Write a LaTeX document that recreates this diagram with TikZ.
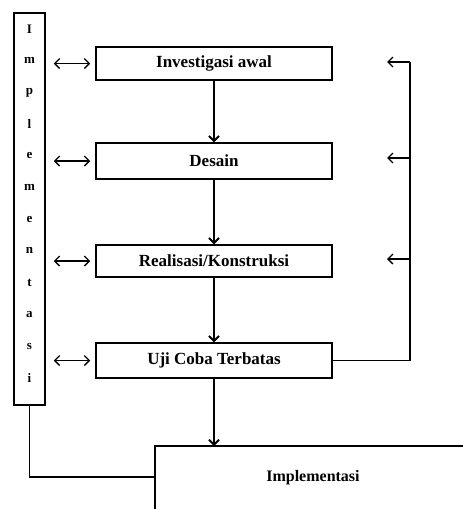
\documentclass[tikz,border=0pt]{standalone}
\usepackage{fontspec}
\setmainfont{Liberation Serif}
\usetikzlibrary{arrows.meta,positioning}

\tikzset{
  >={Straight Barb[length=5pt,width=10pt]},
  stage/.style={draw, line width=1.5pt, minimum width=236pt, minimum height=33pt,
    inner sep=0pt, font=\fontsize{17}{20}\selectfont\bfseries},
  letter/.style={inner sep=0pt, font=\fontsize{13}{15}\selectfont\bfseries},
  flow/.style={->, line width=1.8pt},
  link/.style={<->, line width=1.4pt, shorten <=8pt, shorten >=5pt},
  back/.style={line width=1.3pt}
}

\begin{document}
\begin{tikzpicture}[x=1pt, y=-1pt]
			\useasboundingbox (0,0) rectangle (463,509);
			
			% left column
			\node [draw, line width=1.5pt, minimum width=31pt, minimum height=392pt, inner sep=0pt] (impl) at (29.5,209) {};
			\foreach \ch [count=\i] in {I,m,p,l,e,m,e,n,t,a,s,i}
				\node [letter] (l\i) at (29.5,{29+31.7*(\i-1)}) {\ch};
			
			% stages
			\node [stage] (b1) at (214,63.5) {Investigasi awal};
			\node [stage, minimum height=36pt] (b2) at (214,161) {Desain};
			\node [stage, minimum height=32pt] (b3) at (214,261) {Realisasi/Konstruksi};
			\node [stage, minimum height=35pt] (b4) at (214,360.5) {Uji Coba Terbatas};
			
			\draw [flow] (b1) -- (b2);
			\draw [flow] (b2) -- (b3);
			\draw [flow] (b3) -- (b4);
			
			\foreach \b in {b1,b2,b3,b4}
				\draw [link] (impl.east |- \b) -- (\b.west);
			
			% feedback on the right
			\coordinate (fb) at (410,62);
			\coordinate (r1) at (387,62);
			\coordinate (r2) at (387,158);
			\coordinate (r3) at (387,259);
			\draw [back] (b4.east) -- (fb |- b4.east) -- (fb);
			\draw [flow, line width=1.3pt] (fb) -- (r1);
			\draw [flow, line width=1.3pt] (fb |- r2) -- (r2);
			\draw [flow, line width=1.3pt] (fb |- r3) -- (r3);
			
			% last stage, cut by the page
			\coordinate (c1) at (155,446);
			\draw [line width=1.5pt] (155,509) -- (c1) -- (463,446);
			\node [font=\fontsize{16}{19}\selectfont\bfseries] (imp) at (313,478) {Implementasi};
			\draw [flow] (b4.south) -- (b4.south |- c1);
			\draw [line width=1.5pt] (impl.south) -- (29.5,477) -- (155,477);
\end{tikzpicture}
\end{document}
